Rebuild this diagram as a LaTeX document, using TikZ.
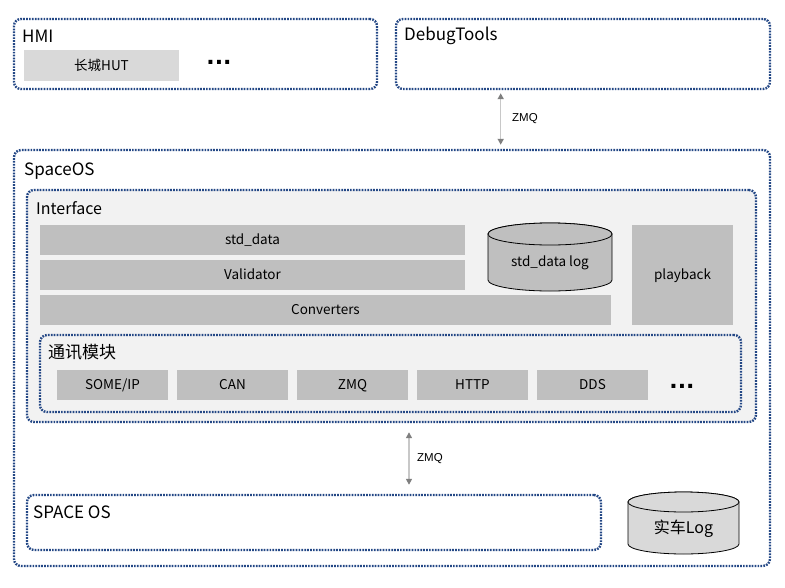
\documentclass[tikz,border=0pt]{standalone}
\usepackage{fontspec}
\setmainfont{Noto Sans CJK SC}
\newfontfamily\arialfont{Liberation Sans}
\newfontfamily\dotfont{DejaVu Sans}
\usetikzlibrary{arrows.meta}
\definecolor{dotblue}{HTML}{234785}
\definecolor{boxgray}{HTML}{BFBFBF}
\definecolor{hutgray}{HTML}{D9D9D9}
\definecolor{panelgray}{HTML}{F2F2F2}
\definecolor{arrline}{HTML}{C8C8C8}
\definecolor{arrhead}{HTML}{7F7F7F}
\begin{document}
\begin{tikzpicture}[x=1pt,y=-1pt,
  group/.style={draw=dotblue, line width=2.4pt, dash pattern=on 1.7pt off 1.2pt,
    rounded corners=7pt, inner sep=0pt},
  title/.style={anchor=west, inner sep=0pt, font=\fontsize{17}{20}\selectfont},
  block/.style={fill=boxgray, draw=none, inner sep=0pt, minimum height=30pt,
    text height=9.8pt, text depth=0pt, font=\fontsize{13.5}{16}\selectfont},
  cyl/.style={fill=#1, draw=black, line width=0.8pt},
  more/.style={inner sep=0pt, font=\dotfont\fontsize{22}{22}\selectfont\bfseries},
  link/.style={draw=arrline, line width=1.5pt,
    {Triangle[color=arrhead,width=6pt,length=6pt]}-{Triangle[color=arrhead,width=6pt,length=6pt]}},
  linklabel/.style={anchor=west, inner sep=0pt, font=\arialfont\fontsize{11.5}{13}\selectfont}
]
\useasboundingbox (0,0) rectangle (785,587);

% top groups
\node[group, minimum width=363pt, minimum height=70pt] (hmi) at (195.5,54) {};
\node[title] (hmit) at (22,36) {HMI};
\node[block, fill=hutgray, minimum width=155pt, minimum height=31pt] (hut) at (101.5,65.5) {长城HUT};
\node[more] (hmimore) at (219,62) {...};

\node[group, minimum width=374pt, minimum height=70pt] (debug) at (583,54) {};
\node[title] (debugt) at (404,36) {DebugTools};

% SpaceOS
\node[group, minimum width=756pt, minimum height=416pt] (spaceos) at (392,358) {};
\node[title] (spaceost) at (24,171) {SpaceOS};

\node[group, fill=panelgray, minimum width=729pt, minimum height=232pt] (iface) at (391.5,306) {};
\node[title, font=\fontsize{16}{19}\selectfont] (ifacet) at (36,208) {Interface};

\node[block, minimum width=425pt] (std) at (252.5,240) {std\_data};
\node[block, minimum width=425pt] (valid) at (252.5,275) {Validator};
\node[block, minimum width=571pt] (conv) at (325.5,310) {Converters};
\node[block, minimum width=101pt, minimum height=100pt] (play) at (682.5,275) {playback};

% std_data log cylinder
\path[cyl=boxgray] (488,234) -- (488,280) arc[start angle=180, end angle=0, x radius=62, y radius=11]
  -- (612,234) arc[start angle=0, end angle=-180, x radius=62, y radius=11] -- cycle;
\draw[cyl=boxgray] (550,234) ellipse[x radius=62, y radius=11];
\node[inner sep=0pt, font=\fontsize{13.5}{16}\selectfont] (stdlog) at (550,263) {std\_data log};

% comm module
\node[group, fill=panelgray, minimum width=701pt, minimum height=77pt] (comm) at (390.5,373.5) {};
\node[title] (commt) at (48,352) {通讯模块};
\node[block, minimum width=111pt] (someip) at (112.5,385) {SOME/IP};
\node[block, minimum width=111pt] (can) at (232.5,385) {CAN};
\node[block, minimum width=111pt] (zmq) at (352.5,385) {ZMQ};
\node[block, minimum width=111pt] (http) at (472.5,385) {HTTP};
\node[block, minimum width=111pt] (dds) at (592.5,385) {DDS};
\node[more] (commmore) at (682,386) {...};

% SPACE OS inner
\node[group, minimum width=574pt, minimum height=55pt] (spos) at (314,522.5) {};
\node[title] (spost) at (33,512) {SPACE OS};

% 实车Log cylinder
\path[cyl=hutgray] (628,502) -- (628,544) arc[start angle=180, end angle=0, x radius=55.5, y radius=10]
  -- (739,502) arc[start angle=0, end angle=-180, x radius=55.5, y radius=10] -- cycle;
\draw[cyl=hutgray] (683.5,502) ellipse[x radius=55.5, y radius=10];
\node[inner sep=0pt, font=\fontsize{16}{18}\selectfont] (carlog) at (683.5,529) {实车Log};

% links
\coordinate (a1) at (500.7,0);
\coordinate (a2) at (409,0);
\draw[link, shorten <=3pt, shorten >=4pt] (debug.south -| a1) -- (spaceos.north -| a1);
\node[linklabel] (z1) at (512,119) {ZMQ};
\draw[link, shorten <=9pt, shorten >=9pt] (iface.south -| a2) -- (spos.north -| a2);
\node[linklabel] (z2) at (417,459) {ZMQ};
\end{tikzpicture}
\end{document}
